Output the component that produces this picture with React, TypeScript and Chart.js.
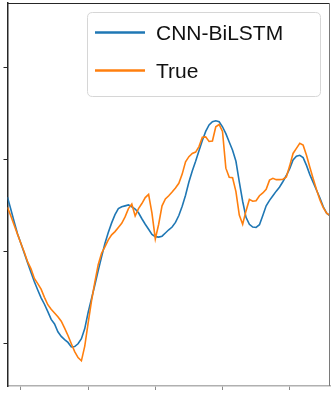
import React, { useEffect, useRef } from "react";
import { Chart, registerables } from "chart.js";

Chart.register(...registerables);

const firstStep = 16;
const timeSteps: number[] = Array.from({ length: 97 }, (_, i) => firstStep + i);

const cnnBiLstm: number[] = [
  0.519, 0.492, 0.465, 0.439, 0.418, 0.397, 0.376, 0.355, 0.335, 0.317,
  0.300, 0.286, 0.270, 0.253, 0.243, 0.226, 0.216, 0.209, 0.203, 0.193,
  0.194, 0.200, 0.211, 0.233, 0.268, 0.298, 0.328, 0.359, 0.389, 0.418,
  0.442, 0.463, 0.481, 0.494, 0.498, 0.500, 0.502, 0.498, 0.493, 0.485,
  0.472, 0.460, 0.449, 0.438, 0.433, 0.432, 0.434, 0.441, 0.448, 0.454,
  0.464, 0.479, 0.499, 0.523, 0.552, 0.576, 0.597, 0.620, 0.642, 0.662,
  0.676, 0.683, 0.685, 0.683, 0.672, 0.657, 0.639, 0.621, 0.597, 0.552,
  0.510, 0.475, 0.460, 0.454, 0.453, 0.459, 0.479, 0.500, 0.512, 0.522,
  0.532, 0.541, 0.553, 0.566, 0.581, 0.600, 0.608, 0.610, 0.605, 0.588,
  0.568, 0.551, 0.534, 0.517, 0.498, 0.484, 0.478,
];

const trueValues: number[] = [
  0.497, 0.478, 0.458, 0.438, 0.418, 0.399, 0.378, 0.363, 0.342, 0.331,
  0.319, 0.301, 0.285, 0.275, 0.267, 0.259, 0.249, 0.234, 0.218, 0.200,
  0.183, 0.170, 0.163, 0.195, 0.245, 0.293, 0.334, 0.372, 0.397, 0.411,
  0.426, 0.437, 0.444, 0.453, 0.462, 0.476, 0.494, 0.504, 0.478, 0.494,
  0.505, 0.518, 0.525, 0.484, 0.428, 0.460, 0.500, 0.515, 0.522, 0.530,
  0.539, 0.549, 0.569, 0.596, 0.607, 0.614, 0.617, 0.629, 0.649, 0.650,
  0.640, 0.641, 0.672, 0.677, 0.662, 0.582, 0.562, 0.561, 0.531, 0.480,
  0.460, 0.489, 0.514, 0.510, 0.511, 0.522, 0.528, 0.536, 0.556, 0.560,
  0.557, 0.557, 0.558, 0.563, 0.587, 0.614, 0.625, 0.636, 0.632, 0.610,
  0.584, 0.559, 0.535, 0.513, 0.496, 0.484, 0.479,
];

const xTicks: number[] = [20, 40, 60, 80, 100];
const yTicks: number[] = [0.2, 0.4, 0.6, 0.8];
const xRange: number[] = [16, 112];
const yRange: number[] = [0.1082, 0.9412];

const seriesNames: string[] = ["CNN-BiLSTM", "True"];
const seriesColors: string[] = ["#1f77b4", "#ff7f0e"];

const framePlugin = {
  id: "frame",
  afterDraw(chart: any) {
    const { ctx, chartArea } = chart;
    const { left, top, right, bottom } = chartArea;
    ctx.save();
    ctx.lineWidth = 1;
    ctx.strokeStyle = "#262626";
    ctx.beginPath();
    ctx.moveTo(left, top + 0.5);
    ctx.lineTo(right, top + 0.5);
    ctx.stroke();
    ctx.strokeStyle = "#7a7a7a";
    ctx.beginPath();
    ctx.moveTo(right - 0.5, top);
    ctx.lineTo(right - 0.5, bottom);
    ctx.stroke();
    ctx.restore();
  },
};

const legendPlugin = {
  id: "floatLegend",
  afterDraw(chart: any) {
    const ctx = chart.ctx;
    const bx = 87.5, by = 12.5, bw = 233, bh = 84, r = 5;
    ctx.save();
    ctx.beginPath();
    ctx.moveTo(bx + r, by);
    ctx.lineTo(bx + bw - r, by);
    ctx.quadraticCurveTo(bx + bw, by, bx + bw, by + r);
    ctx.lineTo(bx + bw, by + bh - r);
    ctx.quadraticCurveTo(bx + bw, by + bh, bx + bw - r, by + bh);
    ctx.lineTo(bx + r, by + bh);
    ctx.quadraticCurveTo(bx, by + bh, bx, by + bh - r);
    ctx.lineTo(bx, by + r);
    ctx.quadraticCurveTo(bx, by, bx + r, by);
    ctx.closePath();
    ctx.fillStyle = "rgba(255,255,255,0.85)";
    ctx.fill();
    ctx.strokeStyle = "#d6d6d6";
    ctx.lineWidth = 1;
    ctx.stroke();

    const rows = [32.5, 70.5];
    const baselines = [40, 77.5];
    chart.data.datasets.forEach((ds: any, i: number) => {
      ctx.strokeStyle = ds.borderColor;
      ctx.lineWidth = 2.5;
      ctx.beginPath();
      ctx.moveTo(95, rows[i]);
      ctx.lineTo(145, rows[i]);
      ctx.stroke();
      ctx.fillStyle = "#111111";
      ctx.font = "21px 'Liberation Sans', Arial, sans-serif";
      ctx.textBaseline = "alphabetic";
      ctx.textAlign = "left";
      ctx.fillText(ds.label, 156, baselines[i]);
    });
    ctx.restore();
  },
};

export default function App() {
  const canvasRef = useRef<HTMLCanvasElement | null>(null);

  useEffect(() => {
    if (!canvasRef.current) return;
    const chart = new Chart(canvasRef.current, {
      type: "line",
      data: {
        datasets: [
          {
            label: seriesNames[0],
            data: timeSteps.map((t, i) => ({ x: t, y: cnnBiLstm[i] })),
            borderColor: seriesColors[0],
            backgroundColor: seriesColors[0],
            borderWidth: 1.6,
            pointRadius: 0,
            tension: 0,
            order: 2,
          },
          {
            label: seriesNames[1],
            data: timeSteps.map((t, i) => ({ x: t, y: trueValues[i] })),
            borderColor: seriesColors[1],
            backgroundColor: seriesColors[1],
            borderWidth: 1.6,
            pointRadius: 0,
            tension: 0,
            order: 1,
          },
        ],
      },
      options: {
        animation: false,
        responsive: false,
        devicePixelRatio: 1,
        layout: { padding: { top: 3, right: 3, left: 0, bottom: 0 } },
        plugins: {
          legend: { display: false },
          tooltip: { enabled: false },
          title: { display: false },
        },
        scales: {
          x: {
            type: "linear",
            min: xRange[0],
            max: xRange[1],
            afterBuildTicks: (scale: any) => {
              scale.ticks = xTicks.map((v) => ({ value: v }));
            },
            afterFit: (scale: any) => {
              scale.height = 13;
            },
            ticks: { display: false },
            grid: {
              drawOnChartArea: false,
              drawTicks: true,
              tickLength: 4,
              color: "#8a8a8a",
              lineWidth: 1,
            },
            border: { display: true, color: "#b0b0b0", width: 1.5 },
          },
          y: {
            type: "linear",
            min: yRange[0],
            max: yRange[1],
            afterBuildTicks: (scale: any) => {
              scale.ticks = yTicks.map((v) => ({ value: v }));
            },
            afterFit: (scale: any) => {
              scale.width = 7.5;
            },
            ticks: { display: false },
            grid: {
              drawOnChartArea: false,
              drawTicks: true,
              tickLength: 4,
              color: "#262626",
              lineWidth: 1,
            },
            border: { display: true, color: "#262626", width: 1.5 },
          },
        },
      },
      plugins: [framePlugin, legendPlugin],
    });
    return () => chart.destroy();
  }, []);

  return (
    <div style={{ position: "absolute", left: 0, top: 0, width: 333, height: 399, background: "#fff" }}>
      <canvas ref={canvasRef} width={333} height={399} style={{ display: "block" }} />
    </div>
  );
}
